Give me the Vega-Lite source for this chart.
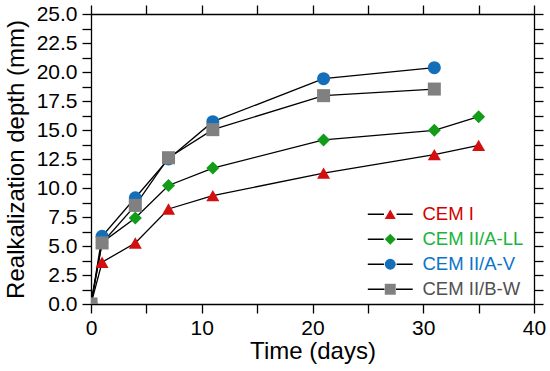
{
  "$schema": "https://vega.github.io/schema/vega-lite/v6.json",
  "width": 443,
  "height": 290,
  "autosize": "none",
  "padding": {"left": 91, "top": 14, "right": 16, "bottom": 67},
  "background": "white",
  "config": {
    "font": "Liberation Sans",
    "view": {"stroke": null},
    "axis": {
      "grid": false,
      "domainColor": "black",
      "domainWidth": 1.3,
      "tickColor": "black",
      "tickWidth": 1.3,
      "tickSize": 9,
      "labelColor": "black",
      "titleColor": "black",
      "labelFont": "Liberation Sans",
      "titleFont": "Liberation Sans",
      "labelFontSize": 21,
      "titleFontSize": 24,
      "titleFontWeight": "normal",
      "labelOverlap": false,
      "labelFlush": false
    }
  },
  "data": {
    "values": [
      {"series": "CEM I", "t": 0, "d": 0},
      {"series": "CEM I", "t": 1, "d": 3.6},
      {"series": "CEM I", "t": 4, "d": 5.26},
      {"series": "CEM I", "t": 7, "d": 8.19},
      {"series": "CEM I", "t": 11, "d": 9.34},
      {"series": "CEM I", "t": 21, "d": 11.29},
      {"series": "CEM I", "t": 31, "d": 12.87},
      {"series": "CEM I", "t": 35, "d": 13.67},
      {"series": "CEM II/A-LL", "t": 0, "d": 0},
      {"series": "CEM II/A-LL", "t": 1, "d": 5.31},
      {"series": "CEM II/A-LL", "t": 4, "d": 7.41},
      {"series": "CEM II/A-LL", "t": 7, "d": 10.22},
      {"series": "CEM II/A-LL", "t": 11, "d": 11.72},
      {"series": "CEM II/A-LL", "t": 21, "d": 14.14},
      {"series": "CEM II/A-LL", "t": 31, "d": 14.97},
      {"series": "CEM II/A-LL", "t": 35, "d": 16.15},
      {"series": "CEM II/A-V", "t": 0, "d": 0},
      {"series": "CEM II/A-V", "t": 1, "d": 5.83},
      {"series": "CEM II/A-V", "t": 4, "d": 9.16},
      {"series": "CEM II/A-V", "t": 7, "d": 12.5},
      {"series": "CEM II/A-V", "t": 11, "d": 15.72},
      {"series": "CEM II/A-V", "t": 21, "d": 19.42},
      {"series": "CEM II/A-V", "t": 31, "d": 20.37},
      {"series": "CEM II/B-W", "t": 0, "d": 0},
      {"series": "CEM II/B-W", "t": 1, "d": 5.26},
      {"series": "CEM II/B-W", "t": 4, "d": 8.5},
      {"series": "CEM II/B-W", "t": 7, "d": 12.61},
      {"series": "CEM II/B-W", "t": 11, "d": 15.03},
      {"series": "CEM II/B-W", "t": 21, "d": 17.96},
      {"series": "CEM II/B-W", "t": 31, "d": 18.53}
    ]
  },
  "layer": [
    {
      "mark": {"type": "line", "color": "black", "strokeWidth": 1.3, "clip": true},
      "encoding": {
        "x": {
          "field": "t", "type": "quantitative",
          "scale": {"domain": [0, 40], "nice": false, "zero": false},
          "axis": {
            "orient": "bottom",
            "title": "Time (days)",
            "values": [0, 5, 10, 15, 20, 25, 30, 35, 40],
            "labelExpr": "datum.value % 10 === 0 ? datum.label : ''",
            "labelPadding": 4,
            "titlePadding": 1,
            "encode": {"ticks": {"update": {"y2": {"signal": "datum.value % 10 === 0 ? 9 : 5"}}}}
          }
        },
        "y": {
          "field": "d", "type": "quantitative",
          "scale": {"domain": [0, 25], "nice": false},
          "axis": {
            "orient": "left",
            "title": "Realkalization depth (mm)",
            "values": [0, 1.25, 2.5, 3.75, 5, 6.25, 7.5, 8.75, 10, 11.25, 12.5, 13.75, 15, 16.25, 17.5, 18.75, 20, 21.25, 22.5, 23.75, 25],
            "labelExpr": "datum.value % 2.5 === 0 ? format(datum.value, '.1f') : ''",
            "labelPadding": 5,
            "titlePadding": 8,
            "encode": {"ticks": {"update": {"x2": {"signal": "datum.value % 2.5 === 0 ? -9 : -5"}}}}
          }
        },
        "detail": {"field": "series", "type": "nominal"}
      }
    },
    {
      "mark": {"type": "point", "filled": false, "color": "black", "strokeWidth": 1.3, "opacity": 0},
      "encoding": {
        "x": {"field": "t", "type": "quantitative", "axis": null},
        "y": {"field": "d", "type": "quantitative", "axis": null},
        "shape": {
          "field": "series", "type": "nominal",
          "scale": {
            "domain": ["CEM I", "CEM II/A-LL", "CEM II/A-V", "CEM II/B-W"],
            "range": ["M-4.1,0H-1.15M1.15,0H4.1", "M-4.1,0H-1.2M1.2,0H4.1", "M-4.1,0H-1.15M1.15,0H4.1", "M-4.1,0H-1.05M1.05,0H4.1"]
          },
          "legend": {
            "orient": "none",
            "legendX": 290,
            "legendY": 191,
            "title": null,
            "padding": 0,
            "symbolSize": 120,
            "symbolStrokeColor": "black",
            "symbolStrokeWidth": 1.3,
            "symbolFillColor": "transparent",
            "symbolOpacity": 1,
            "labelFontSize": 18.5,
            "labelOffset": 23,
            "labelLimit": 300,
            "labelOpacity": 0,
            "rowPadding": 6,
            "zindex": 0,
            "encode": {"symbols": {"update": {"opacity": {"value": 1}, "stroke": {"value": "black"}, "strokeWidth": {"value": 1.3}}}}
          }
        }
      }
    },
    {
      "mark": {"type": "point", "filled": true, "opacity": 1, "clip": true},
      "encoding": {
        "x": {
          "field": "t", "type": "quantitative",
          "axis": {
            "orient": "top",
            "title": null,
            "labels": false,
            "values": [0, 5, 10, 15, 20, 25, 30, 35, 40],
            "encode": {"ticks": {"update": {"y2": {"signal": "datum.value % 10 === 0 ? -9 : -5"}}}}
          }
        },
        "y": {
          "field": "d", "type": "quantitative",
          "axis": {
            "orient": "right",
            "title": null,
            "labels": false,
            "values": [0, 1.25, 2.5, 3.75, 5, 6.25, 7.5, 8.75, 10, 11.25, 12.5, 13.75, 15, 16.25, 17.5, 18.75, 20, 21.25, 22.5, 23.75, 25],
            "encode": {"ticks": {"update": {"x2": {"signal": "datum.value % 2.5 === 0 ? 9 : 5"}}}}
          }
        },
        "color": {
          "field": "series", "type": "nominal",
          "scale": {"range": ["#d40f0f", "#129c1a", "#156fb8", "#808080"]},
          "legend": {
            "orient": "none",
            "legendX": 290,
            "legendY": 191,
            "title": null,
            "padding": 0,
            "symbolSize": 120,
            "symbolOpacity": 1,
            "labelFontSize": 18.5,
            "labelOffset": 23,
            "labelLimit": 300,
            "rowPadding": 6,
            "zindex": 1,
            "encode": {
              "labels": {"update": {"fill": {"signal": "datum.value === 'CEM I' ? '#d40000' : datum.value === 'CEM II/A-LL' ? '#19b43c' : datum.value === 'CEM II/A-V' ? '#0a73c8' : '#505050'"}}}
            }
          }
        },
        "shape": {
          "field": "series", "type": "nominal",
          "scale": {"range": ["triangle-up", "diamond", "circle", "square"]}
        },
        "size": {
          "field": "series", "type": "nominal",
          "scale": {
            "domain": ["CEM I", "CEM II/A-LL", "CEM II/A-V", "CEM II/B-W"],
            "range": [170, 170, 105, 100]
          },
          "legend": null
        }
      }
    }
  ],
  "resolve": {
    "scale": {"shape": "independent", "color": "independent", "size": "independent"},
    "axis": {"x": "independent", "y": "independent"}
  }
}
